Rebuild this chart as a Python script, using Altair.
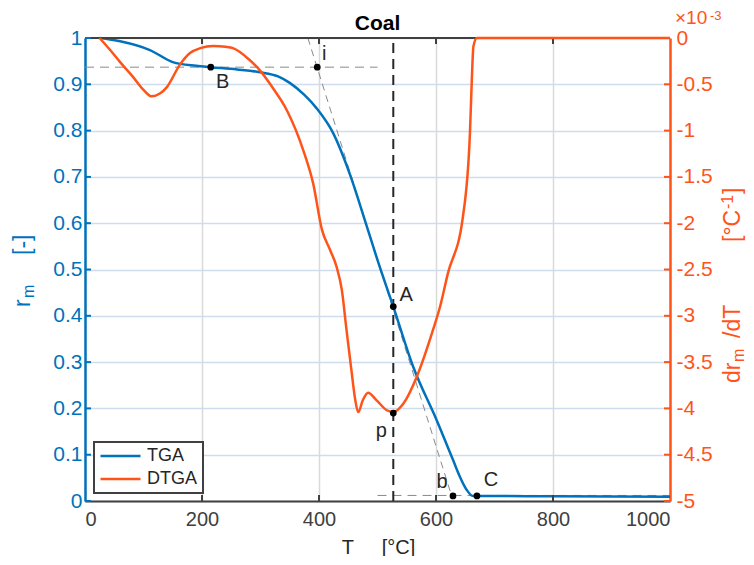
import altair as alt
import pandas as pd

# ---------------- data ----------------
T_tga = [25, 60, 111, 150, 190, 215, 260, 299, 330, 350, 375, 396, 424, 453, 482, 504, 527,
         561, 601, 629, 641, 652, 663, 680, 800, 1000]
r_tga = [1.0, 0.993, 0.974, 0.948, 0.940, 0.937, 0.932, 0.926, 0.917, 0.903, 0.877, 0.848, 0.795,
         0.705, 0.592, 0.505, 0.420, 0.290, 0.175, 0.089, 0.052, 0.025, 0.011, 0.011, 0.010, 0.009]

T_dtga = [25, 43, 60, 82, 100, 114, 128, 140, 162, 180, 197, 219, 240, 253, 280, 299, 320, 345,
          373, 390, 405, 419, 430, 439, 447, 456, 462, 467, 475, 484, 498, 516, 527, 544, 567,
          595, 607, 620, 646, 658, 661, 664, 670, 1000]
v_dtga = [0.0, -0.13, -0.26, -0.42, -0.56, -0.63, -0.60, -0.53, -0.29, -0.16, -0.11, -0.086,
          -0.095, -0.11, -0.23, -0.35, -0.53, -0.78, -1.21, -1.57, -2.07, -2.29, -2.47, -2.72,
          -3.15, -3.62, -3.91, -4.04, -3.91, -3.83, -3.91, -4.02, -4.04, -3.95, -3.66, -3.15,
          -2.90, -2.55, -1.93, -1.03, -0.49, -0.09, 0.0, 0.0]

# characteristic points (left axis r_m)
pt_names = ["B", "i", "A", "b", "C"]
pt_T = [215, 397, 527, 629, 670]
pt_r = [0.937, 0.937, 0.420, 0.011, 0.011]
# point p on DTGA (right axis, x10^-3)
p_T = 527
p_v = -4.05

# guide lines
onset_level = 0.937
onset_T_end = 500
tangent_T = [381, 627]
tangent_r = [1.0, 0.01]
end_level = 0.012
end_T_start = 500
peak_T = 527

x_ticks = [0, 200, 400, 600, 800, 1000]
yl_ticks = [0, 0.1, 0.2, 0.3, 0.4, 0.5, 0.6, 0.7, 0.8, 0.9, 1.0]
yr_ticks = [0, -0.5, -1, -1.5, -2, -2.5, -3, -3.5, -4, -4.5, -5]

# ---------------- style ----------------
W, H = 585, 463
BLUE = "#0072BD"
ORANGE = "#FF5419"
DARK = "#404040"
TXT = "#262626"
FONT = "Liberation Sans"
FS = 21
NB = "\u00a0"

x_scale = alt.Scale(domain=[0, 1000], nice=False, zero=False)
yL = alt.Scale(domain=[0, 1], nice=False, zero=False)
yR = alt.Scale(domain=[-5, 0], nice=False, zero=False)
color_scale = alt.Scale(domain=["TGA", "DTGA"], range=[BLUE, ORANGE])

x_axis = alt.Axis(values=x_ticks, format="d", grid=True, gridColor="#d9d9d9", gridWidth=1.5,
                  domainColor=DARK, domainWidth=2, ticks=False, labelColor=DARK,
                  labelFontSize=20, labelPadding=8, title="T" + NB * 5 + "[°C]", titleFontSize=20,
                  titleFontWeight="normal", titleColor=TXT, titleX=293, titleY=46,
                  titleAlign="center", titleBaseline="middle")
yl_axis = alt.Axis(values=yl_ticks, format="~g", grid=True, gridColor="#cfdcee", gridWidth=1.5,
                   domainColor=BLUE, domainWidth=2.5, ticks=False, labelColor=BLUE,
                   labelFontSize=FS, labelPadding=3, title=None)
yr_axis = alt.Axis(orient="right", values=yr_ticks, labelExpr="'' + datum.value", grid=False,
                   domainColor=ORANGE, domainWidth=2.5, ticks=False, labelColor=ORANGE,
                   labelFontSize=FS, labelPadding=6, title=None)

legend = alt.Legend(title=None, orient="none", legendX=9, legendY=404, symbolType="stroke",
                    symbolSize=1600, symbolStrokeWidth=2.5, labelFontSize=18, labelColor=TXT,
                    labelFont=FONT, strokeColor=DARK, fillColor="white", padding=5,
                    rowPadding=5, labelOffset=5, clipHeight=18)


def X(field):
    return alt.X(field, type="quantitative", scale=x_scale, axis=x_axis)


def YL(field):
    return alt.Y(field, type="quantitative", scale=yL, axis=yl_axis)


def YR(field):
    return alt.Y(field, type="quantitative", scale=yR, axis=yr_axis)


def vtext(txt, x, y, size, color):
    """Rotated (bottom-to-top) piece of an axis title."""
    return alt.Chart(pd.DataFrame({"t": [txt]})).mark_text(
        fontSize=size, font=FONT, color=color, angle=270, align="left",
        baseline="alphabetic").encode(x=alt.value(x), y=alt.value(y), text="t:N")


df_tga = pd.DataFrame({"T": T_tga, "r": r_tga, "series": "TGA"})
df_dtga = pd.DataFrame({"T": T_dtga, "v": v_dtga, "series": "DTGA"})

# ---------------- left-scale layer ----------------
tga_line = alt.Chart(df_tga).mark_line(strokeWidth=2.5, interpolate="monotone").encode(
    x=X("T"), y=YL("r"),
    color=alt.Color("series:N", scale=color_scale, legend=legend),
)

guide_dash = dict(color="#8a8a8a", strokeWidth=1, strokeDash=[9, 6])

onset_rule = alt.Chart(pd.DataFrame({"T": [0], "x2": [onset_T_end], "r": [onset_level]})).mark_rule(
    **guide_dash).encode(x=X("T"), x2="x2:Q", y=YL("r"))

end_rule = alt.Chart(pd.DataFrame({"T": [end_T_start], "x2": [1000], "r": [end_level]})).mark_rule(
    **guide_dash).encode(x=X("T"), x2="x2:Q", y=YL("r"))

tangent_rule = alt.Chart(pd.DataFrame({"T": [tangent_T[0]], "x2": [tangent_T[1]],
                                       "r": [tangent_r[0]], "y2": [tangent_r[1]]})).mark_rule(
    color="#8a8a8a", strokeWidth=1, strokeDash=[7, 5]).encode(
    x=X("T"), x2="x2:Q", y=YL("r"), y2="y2:Q")

peak_rule = alt.Chart(pd.DataFrame({"T": [peak_T], "r": [0], "y2": [1]})).mark_rule(
    color=TXT, strokeWidth=2, strokeDash=[10, 6]).encode(x=X("T"), y=YL("r"), y2="y2:Q")

df_pts = pd.DataFrame({"T": pt_T, "r": pt_r, "name": pt_names})
points = alt.Chart(df_pts).mark_circle(size=45, color="black", opacity=1).encode(
    x=X("T"), y=YL("r"))

label_offsets = {"B": (12, 15), "i": (7, -13), "A": (13, -12), "b": (-11, -14), "C": (14, -16)}
labels = []
for n, t, r in zip(pt_names, pt_T, pt_r):
    dx, dy = label_offsets[n]
    labels.append(alt.Chart(pd.DataFrame({"T": [t], "r": [r], "name": [n]})).mark_text(
        fontSize=20, font=FONT, color=TXT, dx=dx, dy=dy).encode(
        x=X("T"), y=YL("r"), text="name:N"))

# frame pieces and inward ticks
frame_top = alt.Chart(pd.DataFrame({"k": [0]})).mark_rule(color=DARK, strokeWidth=2).encode(
    x=alt.value(0), x2=alt.value(W), y=alt.value(0))
inner_x = [200, 400, 600, 800]
bot_ticks = alt.Chart(pd.DataFrame({"T": inner_x})).mark_rule(color=DARK, strokeWidth=2).encode(
    x=X("T"), y=alt.value(H), y2=alt.value(H - 6))
top_ticks = alt.Chart(pd.DataFrame({"T": inner_x})).mark_rule(color=DARK, strokeWidth=2).encode(
    x=X("T"), y=alt.value(0), y2=alt.value(6))
left_ticks = alt.Chart(pd.DataFrame({"r": yl_ticks})).mark_rule(color=BLUE, strokeWidth=2).encode(
    y=YL("r"), x=alt.value(0), x2=alt.value(6))
title_txt = alt.Chart(pd.DataFrame({"t": ["Coal"]})).mark_text(
    fontSize=21, font=FONT, fontWeight="bold", color="black", baseline="alphabetic").encode(
    x=alt.value(W / 2), y=alt.value(-8), text="t:N")

# axis titles built from pieces (with sub/superscripts)
left_title = [
    vtext("r", -55, 269, 23, BLUE),
    vtext("m", -51, 260, 16, BLUE),
    vtext("[-]", -55, 217, 23, BLUE),
]
right_title = [
    vtext("dr", W + 70, 345, 23, ORANGE),
    vtext("m", W + 74, 324, 16, ORANGE),
    vtext("/dT", W + 70, 300, 23, ORANGE),
    vtext("[°C", W + 70, 204, 23, ORANGE),
    vtext("-1", W + 63, 171, 16, ORANGE),
    vtext("]", W + 70, 156, 23, ORANGE),
]

left_layer = alt.layer(onset_rule, end_rule, tangent_rule, peak_rule, tga_line, points,
                       *labels, frame_top, bot_ticks, top_ticks, left_ticks, title_txt,
                       *left_title, *right_title)

# ---------------- right-scale layer ----------------
dtga_line = alt.Chart(df_dtga).mark_line(strokeWidth=2.5, interpolate="monotone").encode(
    x=X("T"), y=YR("v"),
    color=alt.Color("series:N", scale=color_scale, legend=legend),
)
right_ticks = alt.Chart(pd.DataFrame({"v": yr_ticks})).mark_rule(color=ORANGE, strokeWidth=2).encode(
    y=YR("v"), x=alt.value(W - 6), x2=alt.value(W))
p_df = pd.DataFrame({"T": [p_T], "v": [p_v], "name": ["p"]})
p_point = alt.Chart(p_df).mark_circle(size=45, color="black", opacity=1).encode(
    x=X("T"), y=YR("v"))
p_label = alt.Chart(p_df).mark_text(fontSize=20, font=FONT, color=TXT, dx=-12, dy=18).encode(
    x=X("T"), y=YR("v"), text="name:N")
exp_base = alt.Chart(pd.DataFrame({"t": ["×10"]})).mark_text(
    fontSize=19, font=FONT, color=ORANGE, align="left", baseline="alphabetic").encode(
    x=alt.value(W + 5), y=alt.value(-14), text="t:N")
exp_pow = alt.Chart(pd.DataFrame({"t": ["-3"]})).mark_text(
    fontSize=13, font=FONT, color=ORANGE, align="left", baseline="alphabetic").encode(
    x=alt.value(W + 40), y=alt.value(-18), text="t:N")

right_layer = alt.layer(dtga_line, right_ticks, p_point, p_label, exp_base, exp_pow)

chart = alt.layer(left_layer, right_layer).resolve_scale(y="independent").properties(
    width=W, height=H,
    autosize=alt.AutoSizeParams(type="none"),
    padding={"left": 77, "top": 30, "right": 76, "bottom": 55},
).configure_axis(labelFont=FONT, titleFont=FONT).configure_legend(strokeWidth=2).configure_view(
    stroke=None)

chart.save("out.html", embed_options={"renderer": "svg", "actions": False})
